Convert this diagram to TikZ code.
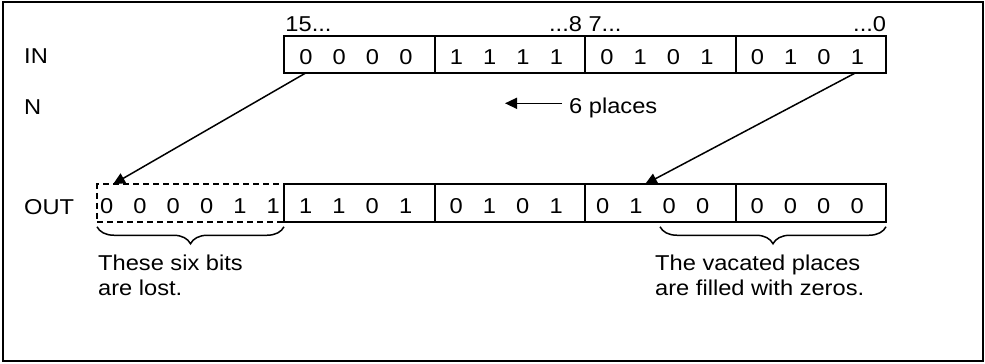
\documentclass[tikz,border=0pt]{standalone}
\usepackage{fontspec}
\setmainfont{Liberation Sans}[FakeStretch=1.1]
\usetikzlibrary{arrows.meta, positioning, decorations.pathreplacing}
\newcommand{\bgap}{\hspace{20.2pt}}

\begin{document}
\begin{tikzpicture}[
  x=1pt, y=-1pt,
  node distance=0pt,
  every node/.style={font=\fontsize{21.5}{25}\selectfont},
  nib/.style={rectangle, draw, line width=2pt, outer sep=0pt,
              minimum width=150.5pt, minimum height=37.5pt,
              inner xsep=15pt, inner ysep=0pt, text width=120.5pt, align=left,
              text height=20pt, text depth=0pt},
  lostbox/.style={nib, dash pattern=on 6pt off 4pt, line width=1.8pt,
                  minimum width=187pt, inner xsep=3pt, text width=181pt},
  lbl/.style={inner sep=0pt},
  arr/.style={-{Triangle[length=12pt,width=11pt]}, line width=1.5pt},
  brc/.style={decorate, decoration={brace, mirror, amplitude=17pt}, line width=1.5pt}
]
\useasboundingbox (0,0) rectangle (985,364);
\draw[line width=2.2pt] (3,2) rectangle (983,361);

% Input word
\node[nib] (in1) at (359.5,54.5) {0\bgap 0\bgap 0\bgap 0};
\node[nib, right=of in1] (in2) {1\bgap 1\bgap 1\bgap 1};
\node[nib, right=of in2] (in3) {0\bgap 1\bgap 0\bgap 1};
\node[nib, right=of in3] (in4) {0\bgap 1\bgap 0\bgap 1};
% Output word
\node[lostbox] (lost) at (190.5,203) {0\bgap 0\bgap 0\bgap 0\bgap 1\bgap 1};
\node[nib, right=of lost] (out1) {1\bgap 1\bgap 0\bgap 1};
\node[nib, right=of out1] (out2) {0\bgap 1\bgap 0\bgap 1};
\node[nib, right=of out2, inner xsep=11pt, text width=128.5pt] (out3) {0\bgap 1\bgap 0\bgap 0};
\node[nib, right=of out3] (out4) {0\bgap 0\bgap 0\bgap 0};

% Row labels
\node[lbl, anchor=base west] (inlbl) at (24,63.5) {IN};
\node[lbl, anchor=base west] (nlbl) at (24,114) {N};
\node[lbl, anchor=base west] (outlbl) at (24,214) {OUT};
% Bit numbers
\node[lbl, anchor=base west] (msb) at ([xshift=1pt,yshift=4pt]in1.north west) {15...};
\node[lbl, anchor=base] (mid) at ([yshift=4pt]in2.north east) {...8 7...};
\node[lbl, anchor=base east] (lsb) at ([yshift=4pt]in4.north east) {...0};

% Shift amount
\node[lbl, inner xsep=7pt, anchor=base west] (shift) at (562,113) {6 places};
\coordinate (shiftend) at (505,103.3);
\draw[arr] (shiftend -| shift.west) -- (shiftend);

% Moved bits
\draw[arr] ([xshift=21pt]in1.south west) -- ([xshift=16pt]lost.north west);
\draw[arr] ([xshift=119pt]in4.south west) -- ([xshift=60pt]out3.north west);

% Notes
\draw[brc] ([yshift=-5pt]lost.south west) -- ([yshift=-5pt]lost.south east);
\draw[brc] ([xshift=75pt,yshift=-5pt]out3.south west) -- ([yshift=-5pt]out4.south east);
\node[lbl, anchor=north west, align=left] (lostnote) at (98,255) {These six bits\\are lost.};
\node[lbl, anchor=north west, align=left] (zeronote) at (655,255) {The vacated places\\are filled with zeros.};
\end{tikzpicture}
\end{document}
